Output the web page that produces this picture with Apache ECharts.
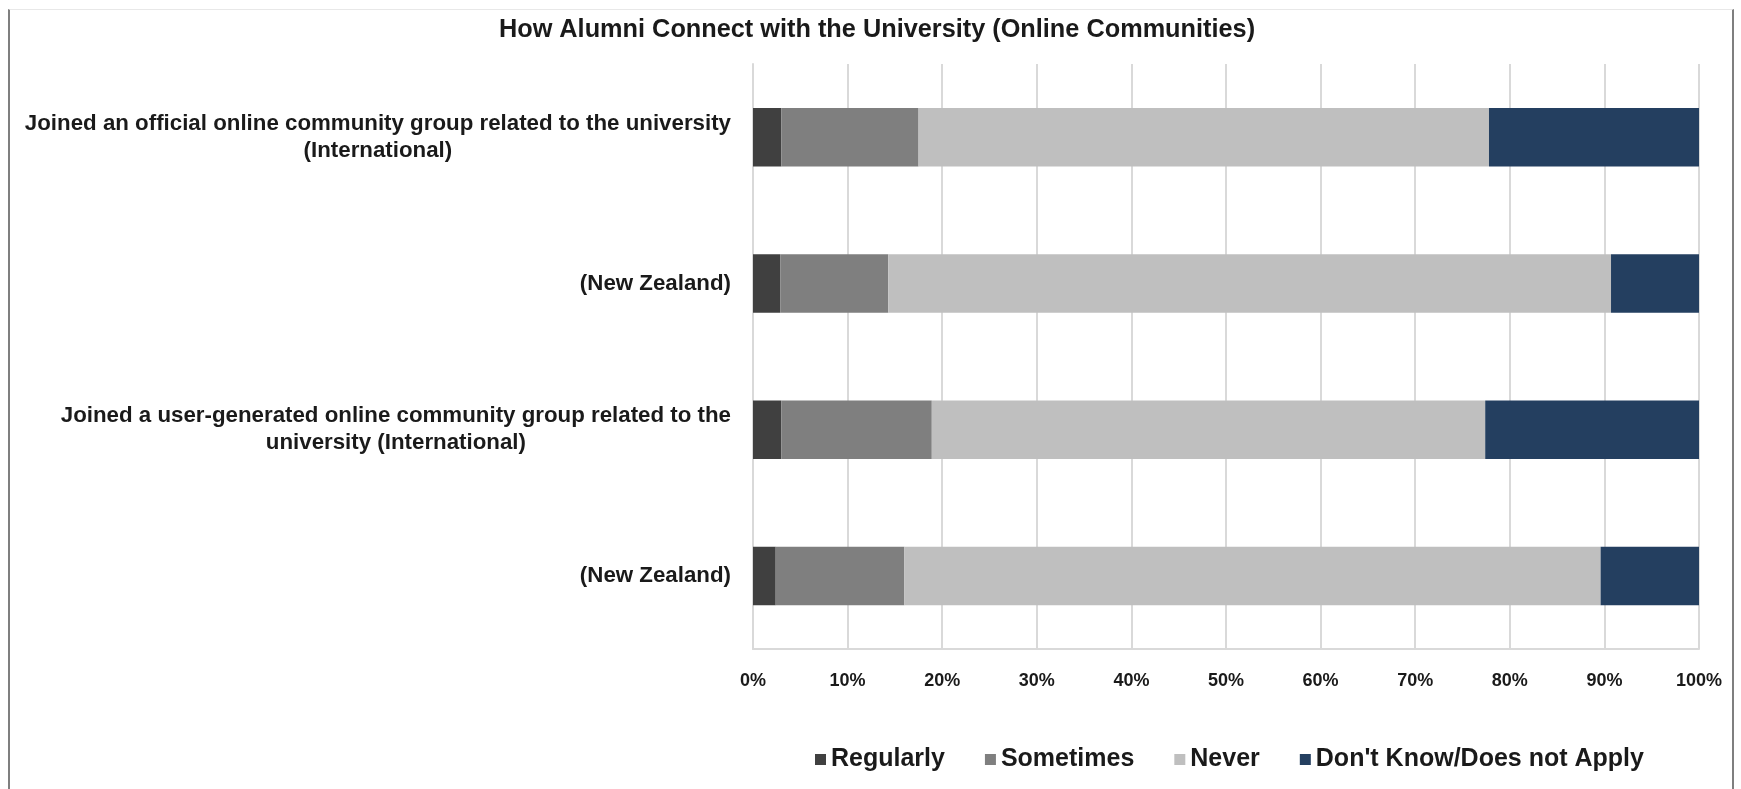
<!DOCTYPE html>
<html>
<head>
<meta charset="utf-8">
<title>How Alumni Connect with the University (Online Communities)</title>
<script src="https://cdn.jsdelivr.net/npm/echarts@6/dist/echarts.min.js"></script>
<style>
  html, body { margin: 0; padding: 0; background: #fff; overflow: hidden; }
  #chart { width: 1741px; height: 789px; }
  #frame {
    position: absolute; left: 8px; top: 9px; width: 1722px; height: 800px;
    border-left: 2px solid #7f7f7f; border-right: 2px solid #7f7f7f; border-top: 1px solid #e8e8e8;
    pointer-events: none;
  }
</style>
</head>
<body>
<div id="chart"></div>
<div id="frame"></div>
<script>
const categories = [
  'Joined an official online community group related to the university\n(International)',
  '(New Zealand)',
  'Joined a user-generated online community group related to the\nuniversity (International)',
  '(New Zealand)',
]
const regularly = [3.0, 2.9, 3.0, 2.4]
const sometimes = [14.5, 11.4, 15.9, 13.6]
const never = [60.3, 76.4, 58.5, 73.6]
const dontKnow = [22.2, 9.3, 22.6, 10.4]
const xTicks = [0, 10, 20, 30, 40, 50, 60, 70, 80, 90, 100]

const font = 'Liberation Sans, Arial, sans-serif'
const chart = echarts.init(document.getElementById('chart'))

function bar(name, values, color) {
  return {
    name,
    type: 'bar',
    stack: 'total',
    data: values,
    barCategoryGap: '60%',
    itemStyle: { color },
  }
}

chart.setOption({
  animation: false,
  textStyle: { fontFamily: font },
  title: {
    text: 'How Alumni Connect with the University (Online Communities)',
    left: 877,
    top: 18,
    padding: 0,
    textAlign: 'center',
    textStyle: { fontSize: 25.3, fontWeight: 'bold', color: '#1a1a1a', fontFamily: font },
  },
  legend: {
    data: ['Regularly', 'Sometimes', 'Never', "Don't Know/Does not Apply"],
    left: 810,
    top: 742,
    itemWidth: 11,
    itemHeight: 11,
    itemGap: 40,
    icon: 'rect',
    textStyle: { fontSize: 25, fontWeight: 'bold', color: '#1a1a1a', fontFamily: font },
  },
  grid: { left: 753, right: 42, top: 64, bottom: 140, containLabel: false },
  xAxis: {
    type: 'value',
    min: 0,
    max: 100,
    interval: 10,
    axisLine: { show: true, lineStyle: { color: '#d9d9d9', width: 2 } },
    axisTick: { show: false },
    splitLine: { lineStyle: { color: '#d9d9d9', width: 2 } },
    axisLabel: {
      margin: 23,
      fontSize: 18,
      fontWeight: 'bold',
      color: '#1a1a1a',
      formatter: v => (xTicks.includes(v) ? v + '%' : ''),
    },
  },
  yAxis: {
    type: 'category',
    inverse: true,
    data: categories,
    axisLine: { show: true, lineStyle: { color: '#d9d9d9', width: 2 } },
    axisTick: { show: false },
    axisLabel: {
      margin: 22,
      align: 'right',
      formatter: v => v.split('\n').map(l => '{c|' + l + '}').join('\n'),
      rich: {
        c: { align: 'center', fontSize: 22.3, fontWeight: 'bold', color: '#1a1a1a', lineHeight: 27, fontFamily: font },
      },
    },
  },
  series: [
    bar('Regularly', regularly, '#404040'),
    bar('Sometimes', sometimes, '#7f7f7f'),
    bar('Never', never, '#bfbfbf'),
    bar("Don't Know/Does not Apply", dontKnow, '#243f60'),
  ],
})
</script>
</body>
</html>
